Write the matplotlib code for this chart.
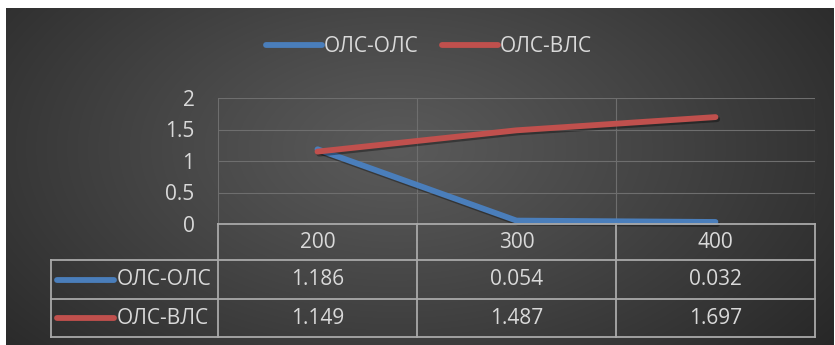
import numpy as np
import matplotlib.pyplot as plt
from matplotlib import patheffects as pe
from matplotlib.lines import Line2D

# data
categories = ['200', '300', '400']
series_names = ['ОЛС-ОЛС', 'ОЛС-ВЛС']
ols_ols = [1.186, 0.054, 0.032]
ols_vls = [1.149, 1.487, 1.697]
y_ticks = [0, 0.5, 1, 1.5, 2]
y_tick_labels = ['0', '0.5', '1', '1.5', '2']

series = [ols_ols, ols_vls]
colors = ['#4a7ebb', '#c0504d']
text_color = '#d9d9d9'
grid_color = '#6e6e6e'
table_color = '#a9a9a9'
fs = 15

plt.rcParams['font.family'] = ['Open Sans', 'DejaVu Sans']

W, H = 835, 345
fig = plt.figure(figsize=(W / 100, H / 100), dpi=100, facecolor='white')


def px(x0, y0, x1, y1):
    # pixel box (origin top-left) -> figure fraction rect
    return [x0 / W, 1 - y1 / H, (x1 - x0) / W, (y1 - y0) / H]


# radial gradient background
bg = fig.add_axes(px(6, 8, 834, 345))
yy, xx = np.mgrid[0:337, 0:828]
r = np.sqrt(((xx - 390) / 560) ** 2 + ((yy - 140) / 330) ** 2)
r = np.clip(r, 0, 1) ** 1.1
shade = (0x5a - (0x5a - 0x26) * r) / 255
bg.imshow(np.dstack([shade] * 3), aspect='auto', interpolation='bilinear')
bg.axis('off')

# plot area
ax = fig.add_axes(px(218, 98, 815, 224))
ax.set_facecolor('none')
ax.set_xlim(0, len(categories))
ax.set_ylim(0, 2)
for s in ax.spines.values():
    s.set_visible(False)

for yv in y_ticks[1:]:
    ax.axhline(yv, color=grid_color, lw=0.8, zorder=1)
for xv in range(len(categories) + 1):
    ax.axvline(xv, color=grid_color, lw=0.8, zorder=1)

ax.set_xticks([])
ax.set_yticks(y_ticks)
ax.set_yticklabels(y_tick_labels)
ax.tick_params(axis='y', length=0, pad=17, labelsize=fs, labelcolor=text_color)

x = np.arange(len(categories)) + 0.5
shadow = [pe.SimpleLineShadow(offset=(1.2, -1.5), shadow_color='black', alpha=0.35), pe.Normal()]
for vals, c in zip(series, colors):
    ax.plot(x, vals, color=c, lw=4.2, solid_capstyle='round', solid_joinstyle='round',
            path_effects=shadow, zorder=3, clip_on=False)

# data table under the axes (x in data units, y in axes fraction)
tr = ax.get_xaxis_transform()
ph = 126.0
rows_y = [0, -36 / ph, -75 / ph, -113 / ph]
left_x = (51 - 218) / 199.0
n = len(categories)
tkw = dict(color=table_color, lw=1.3, transform=tr, clip_on=False, zorder=4)

ax.plot([0, n], [0, 0], **tkw)
for yv in rows_y[1:]:
    ax.plot([left_x, n], [yv, yv], **tkw)
ax.plot([left_x, left_x], [rows_y[1], rows_y[3]], **tkw)
for xv in range(n + 1):
    ax.plot([xv, xv], [0, rows_y[3]], **tkw)

for i, cat in enumerate(categories):
    ax.text(x[i], (rows_y[0] + rows_y[1]) / 2, cat, transform=tr, ha='center', va='center',
            color=text_color, fontsize=fs)
for j, (name, vals, c) in enumerate(zip(series_names, series, colors)):
    yc = (rows_y[j + 1] + rows_y[j + 2]) / 2
    ax.plot([(57 - 218) / 199.0, (114 - 218) / 199.0], [yc, yc], color=c, lw=4.2,
            solid_capstyle='round', transform=tr, clip_on=False)
    ax.text((117 - 218) / 199.0, yc, name, transform=tr, ha='left', va='center',
            color=text_color, fontsize=fs)
    for i, v in enumerate(vals):
        ax.text(x[i], yc, f'{v:.3f}', transform=tr, ha='center', va='center',
                color=text_color, fontsize=fs)

# legend on top
handles = [Line2D([], [], color=c, lw=4.2, solid_capstyle='round') for c in colors]
leg = fig.legend(handles, series_names, loc='center', bbox_to_anchor=(429 / W, 1 - 47 / H),
                 ncol=2, frameon=False, fontsize=fs, handlelength=2.7, handletextpad=0.1,
                 columnspacing=1.1)
for t in leg.get_texts():
    t.set_color(text_color)

fig.savefig('out.png', dpi=100, facecolor='white')
